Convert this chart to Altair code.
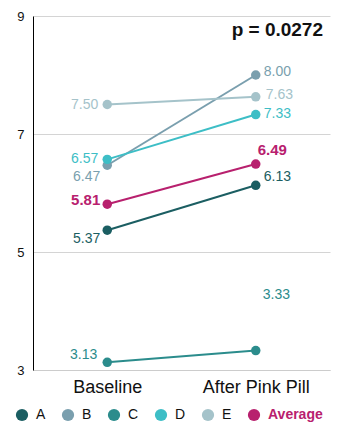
import altair as alt
import pandas as pd

series = ["A", "B", "C", "D", "E", "Average"]
phases = ["Baseline", "After Pink Pill"]
baseline = [5.37, 6.47, 3.13, 6.57, 7.50, 5.81]
after = [6.13, 8.00, 3.33, 7.33, 7.63, 6.49]
colors = ["#1b5e62", "#7a9fae", "#2b8c8c", "#3dbec6", "#a5c3ca", "#b8206e"]
y_ticks = [3, 5, 7, 9]
p_text = "p = 0.0272"

# label offsets (style only): (dx, dy)
offsets = {
    ("A", "Baseline"): (-7, 9), ("A", "After Pink Pill"): (8, -8),
    ("B", "Baseline"): (-7, 12), ("B", "After Pink Pill"): (8, -3),
    ("C", "Baseline"): (-10, -7), ("C", "After Pink Pill"): (7, -56),
    ("D", "Baseline"): (-9, 0), ("D", "After Pink Pill"): (8, -1),
    ("E", "Baseline"): (-9, 0), ("E", "After Pink Pill"): (10, -2),
    ("Average", "Baseline"): (-7, -4), ("Average", "After Pink Pill"): (2, -14),
}

rows = []
for s, b, a in zip(series, baseline, after):
    rows.append({"series": s, "phase": phases[0], "value": b, "label": f"{b:.2f}"})
    rows.append({"series": s, "phase": phases[1], "value": a, "label": f"{a:.2f}"})
df = pd.DataFrame(rows)

FONT = "Liberation Sans"

x_enc = alt.X("phase:N", sort=phases, scale=alt.Scale(type="point", padding=0.5),
              axis=alt.Axis(title=None, labelAngle=0, ticks=False, labelFontSize=18,
                            labelColor="#111", labelPadding=8, domainColor="#cccccc",
                            grid=False, labelFont=FONT))
y_enc = alt.Y("value:Q", scale=alt.Scale(domain=[3, 9], nice=False, zero=False),
              axis=alt.Axis(title=None, values=y_ticks, ticks=False, labelFontSize=13,
                            labelColor="#111", labelPadding=9, domainColor="#000000",
                            grid=True, gridColor="#d4d4d4", labelFont=FONT))
legend = alt.Legend(title=None, orient="none", legendX=-18, legendY=392,
                    direction="horizontal", symbolType="circle", symbolSize=150,
                    labelFontSize=14, labelFont=FONT, labelOffset=7, columnPadding=15,
                    symbolStrokeWidth=0,
                    labelColor={"expr": "datum.label == 'Average' ? '#b8206e' : '#111'"},
                    labelFontWeight={"expr": "datum.label == 'Average' ? 'bold' : 'normal'"})
color_enc = alt.Color("series:N", scale=alt.Scale(domain=series, range=colors), legend=legend)

base = alt.Chart(df)
lines = base.mark_line(strokeWidth=2).encode(x=x_enc, y=y_enc, color=color_enc, detail="series:N")
points = base.mark_circle(size=90, opacity=1).encode(x=x_enc, y=y_enc, color=color_enc)

texts = []
for s in series:
    for ph in phases:
        dx, dy = offsets[(s, ph)]
        t = base.transform_filter(
            (alt.datum.series == s) & (alt.datum.phase == ph)
        ).mark_text(
            align="right" if ph == phases[0] else "left", baseline="middle",
            dx=dx, dy=dy, fontSize=15 if s == "Average" else 14,
            fontWeight="bold" if s == "Average" else "normal", font=FONT
        ).encode(x=x_enc, y=y_enc, text="label:N", color=color_enc)
        texts.append(t)

ptext = alt.Chart(pd.DataFrame({"t": [p_text]})).mark_text(
    align="right", baseline="middle", fontSize=19, fontWeight="bold", font=FONT, color="#111"
).encode(x=alt.value(290), y=alt.value(14), text="t:N")

chart = alt.layer(lines, points, *texts, ptext).properties(
    width=297, height=354,
    autosize=alt.AutoSizeParams(type="none"),
    padding={"left": 33, "top": 16, "right": 13, "bottom": 65},
).configure_view(stroke=None)

chart.save("out.html", embed_options={"renderer": "svg", "actions": False})
